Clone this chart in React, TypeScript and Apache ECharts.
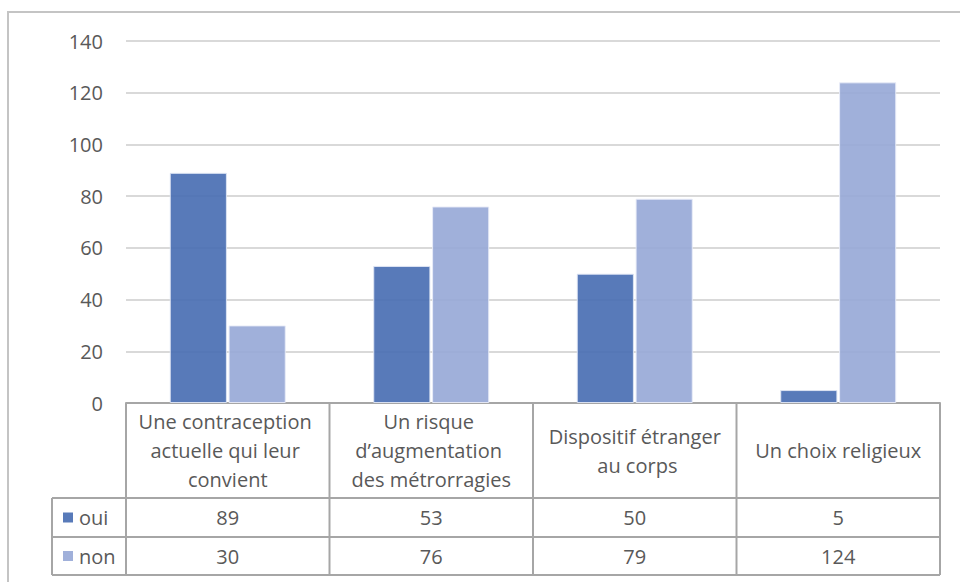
import React, { useEffect, useRef } from "react";
import * as echarts from "echarts";

const categories = [
  "Une contraception actuelle qui leur convient",
  "Un risque d\u2019augmentation des métrorragies",
  "Dispositif étranger au corps",
  "Un choix religieux",
];
const seriesNames = ["oui", "non"];
const ouiValues = [89, 53, 50, 5];
const nonValues = [30, 76, 79, 124];
const yTicks = { min: 0, max: 140, interval: 20 };
const colors = ["#4a6fb3", "#98a9d7"];

const W = 960;
const H = 582;
const gridLeft = 126;
const gridRight = 20;
const gridTop = 41;
const gridBottom = 179;
const FONT = "Open Sans";
const FS = 20;
const TEXT = "#595959";
const LINE = "#a6a6a6";

export default function App() {
  const ref = useRef<HTMLDivElement>(null);
  useEffect(() => {
    if (!ref.current) return;
    const chart = echarts.init(ref.current, undefined, { renderer: "svg" });
    const plotRight = W - gridRight;
    const plotBottom = H - gridBottom;
    const cw = (plotRight - gridLeft) / categories.length;
    const tableLeft = 52;
    const rowTops = [plotBottom, 498, 537, 575];
    const values = [ouiValues, nonValues];

    const graphic: any[] = [];
    graphic.push({
      type: "rect",
      silent: true,
      shape: { x: 8, y: 12, width: 1000, height: 1000 },
      style: { fill: "none", stroke: "#c4c4c4", lineWidth: 2 },
    });
    for (let r = 1; r < rowTops.length; r++) {
      graphic.push({
        type: "line",
        silent: true,
        shape: { x1: tableLeft, y1: rowTops[r], x2: plotRight, y2: rowTops[r] },
        style: { stroke: LINE, lineWidth: 2 },
      });
    }
    graphic.push({
      type: "line",
      silent: true,
      shape: { x1: tableLeft, y1: rowTops[1], x2: tableLeft, y2: rowTops[3] },
      style: { stroke: LINE, lineWidth: 2 },
    });
    for (let i = 0; i <= categories.length; i++) {
      const x = gridLeft + i * cw;
      graphic.push({
        type: "line",
        silent: true,
        shape: { x1: x, y1: plotBottom, x2: x, y2: rowTops[3] },
        style: { stroke: LINE, lineWidth: 2 },
      });
    }
    categories.forEach((c, i) => {
      graphic.push({
        type: "text",
        silent: true,
        x: gridLeft + (i + 0.5) * cw,
        y: (rowTops[0] + rowTops[1]) / 2,
        style: {
          text: c,
          width: 184,
          overflow: "break",
          fontFamily: FONT,
          fontSize: FS,
          lineHeight: 29,
          fill: TEXT,
          align: "center",
          verticalAlign: "middle",
        },
      });
    });
    seriesNames.forEach((name, s) => {
      const cy = (rowTops[s + 1] + rowTops[s + 2]) / 2;
      graphic.push({
        type: "rect",
        silent: true,
        shape: { x: 63, y: cy - 5, width: 10, height: 10 },
        style: { fill: colors[s], opacity: 0.92 },
      });
      graphic.push({
        type: "text",
        silent: true,
        x: 79,
        y: cy,
        style: {
          text: name,
          fontFamily: FONT,
          fontSize: FS,
          fill: TEXT,
          align: "left",
          verticalAlign: "middle",
        },
      });
      values[s].forEach((v, i) => {
        graphic.push({
          type: "text",
          silent: true,
          x: gridLeft + (i + 0.5) * cw,
          y: cy,
          style: {
            text: String(v),
            fontFamily: FONT,
            fontSize: FS,
            fill: TEXT,
            align: "center",
            verticalAlign: "middle",
          },
        });
      });
    });

    chart.setOption({
      animation: false,
      backgroundColor: "#ffffff",
      grid: { left: gridLeft, right: gridRight, top: gridTop, bottom: gridBottom },
      xAxis: {
        type: "category",
        data: categories,
        axisLine: { show: true, lineStyle: { color: LINE, width: 2 } },
        axisTick: { show: false },
        axisLabel: { show: false },
        splitLine: { show: false },
      },
      yAxis: {
        type: "value",
        min: yTicks.min,
        max: yTicks.max,
        interval: yTicks.interval,
        axisLine: { show: false },
        axisTick: { show: false },
        axisLabel: {
          color: TEXT,
          fontFamily: FONT,
          fontSize: FS,
          margin: 23,
        },
        splitLine: { lineStyle: { color: "#d9d9d9", width: 2 } },
      },
      series: [
        {
          name: seriesNames[0],
          type: "bar",
          data: ouiValues,
          barGap: "3%",
          barCategoryGap: "43%",
          itemStyle: {
            color: colors[0],
            opacity: 0.92,
            borderColor: "#dfe6f4",
            borderWidth: 1,
          },
        },
        {
          name: seriesNames[1],
          type: "bar",
          data: nonValues,
          itemStyle: {
            color: colors[1],
            opacity: 0.92,
            borderColor: "#e8ecf7",
            borderWidth: 1,
          },
        },
      ],
      graphic,
    });
    return () => chart.dispose();
  }, []);
  return (
    <div
      ref={ref}
      style={{ position: "absolute", left: 0, top: 0, width: W, height: H }}
    />
  );
}
